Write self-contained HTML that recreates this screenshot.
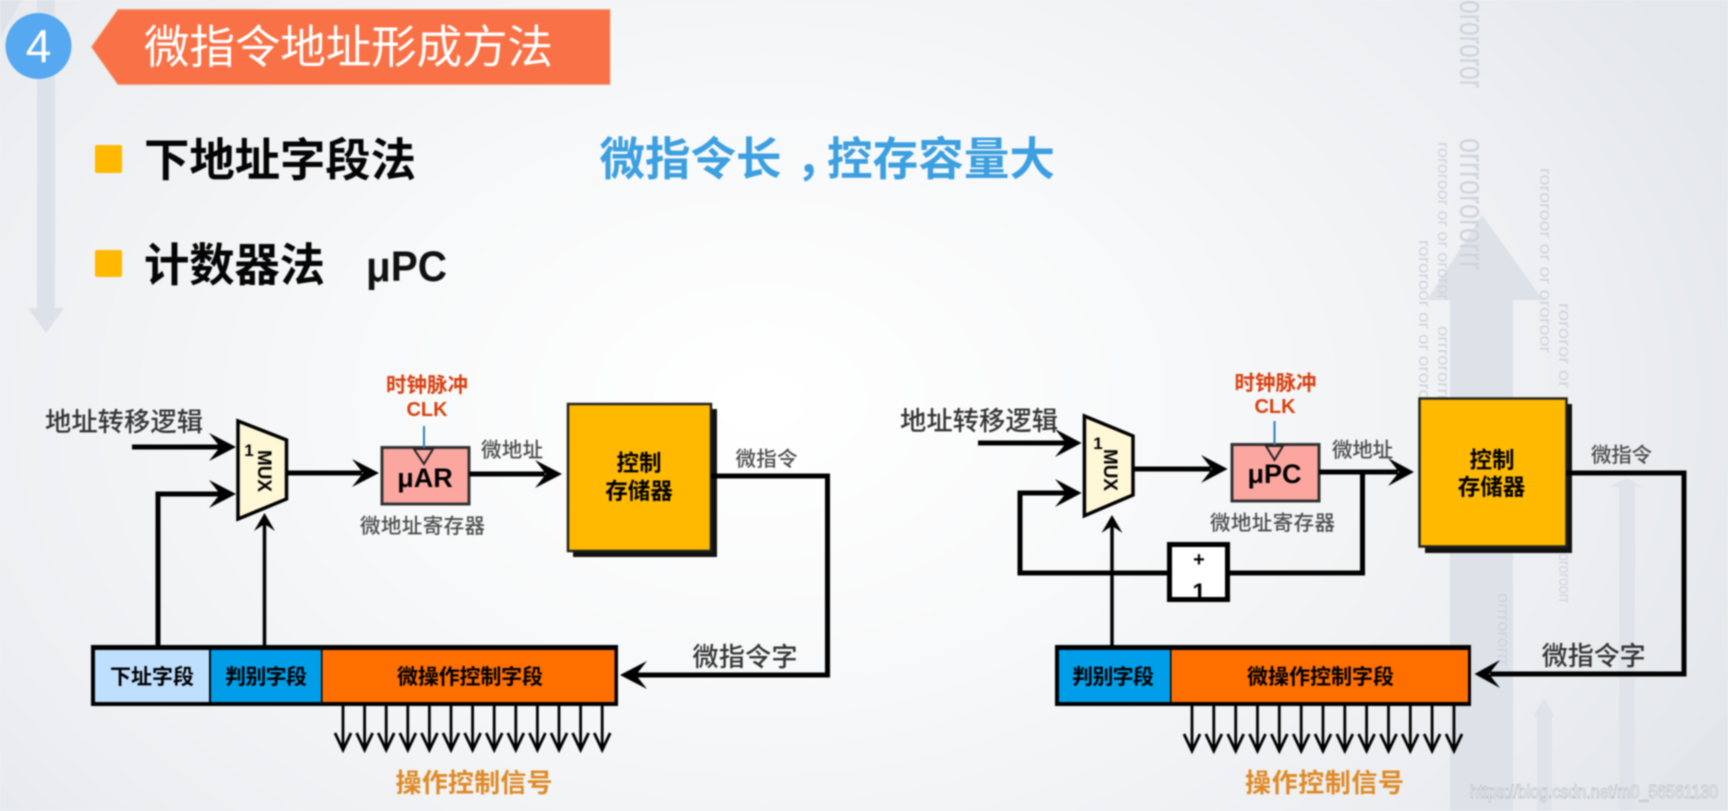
<!DOCTYPE html>
<html lang="zh">
<head>
<meta charset="utf-8">
<title>微指令地址形成方法</title>
<style>
html,body{margin:0;padding:0;width:1728px;height:811px;overflow:hidden;background:#f2f4f6}
svg{display:block;position:absolute;left:0;top:0;filter:blur(.7px)}
text{font-family:"Liberation Sans","Noto Sans CJK SC",sans-serif}
.b{font-weight:700}
.gl{fill:#4c4c4c;font-weight:500}
.gd{fill:#333;font-weight:500}
.k{fill:#000;font-weight:700}
.r{fill:#d8400f;font-weight:700}
.o{fill:#df8a26;font-weight:700}
.bin{fill:#cfd4dc;font-family:"Liberation Sans",sans-serif}
</style>
</head>
<body>
<svg width="1728" height="811" viewBox="0 0 1728 811" xmlns="http://www.w3.org/2000/svg">
<defs>
<radialGradient id="bg" gradientUnits="userSpaceOnUse" cx="760" cy="400" r="1050" gradientTransform="translate(0 120) scale(1 .7)">
<stop offset="0" stop-color="#ffffff"/>
<stop offset=".4" stop-color="#f7f8f9"/>
<stop offset=".8" stop-color="#eceef1"/>
<stop offset="1" stop-color="#e4e7eb"/>
</radialGradient>
</defs>
<rect width="1728" height="811" fill="url(#bg)"/>

<!-- background decoration -->
<polygon points="0,0 22,0 0,38" fill="#dfe3e9"/>
<polygon points="37,0 55,0 55,308 64,308 46,333 28,308 37,308" fill="#dde2ea"/>
<polygon points="1482,215 1543,300 1513,300 1513,811 1450,811 1450,300 1427,300" fill="#dde2e9"/>
<polygon points="1627,478 1644,487 1635,487 1635,811 1619,811 1619,487 1608,487" fill="#e0e4ea"/>
<polygon points="1544,698 1555,717 1552,717 1552,811 1537,811 1537,717 1533,717" fill="#e0e4ea"/>
<polygon points="1728,713 1728,811 1630,811" fill="#e2e6eb"/>

<!-- binary columns -->
<g class="bin">
<text transform="translate(1460 0) rotate(90)" font-size="36" textLength="88" lengthAdjust="spacingAndGlyphs">orororor</text>
<text transform="translate(1460 138) rotate(90)" font-size="36" textLength="132" lengthAdjust="spacingAndGlyphs">orrrorororrr</text>
<text transform="translate(1438 142) rotate(90)" font-size="17" textLength="158" lengthAdjust="spacingAndGlyphs">rororoor or or ororor</text>
<text transform="translate(1540 168) rotate(90)" font-size="17" textLength="185" lengthAdjust="spacingAndGlyphs">rororoor or or ororoor</text>
<text transform="translate(1559 303) rotate(90)" font-size="17" textLength="85" lengthAdjust="spacingAndGlyphs">rororor or</text>
<text transform="translate(1419 240) rotate(90)" font-size="17" textLength="160" lengthAdjust="spacingAndGlyphs">rororoor or or ororo</text>
<text transform="translate(1438 326) rotate(90)" font-size="17" textLength="75" lengthAdjust="spacingAndGlyphs">orrrororrr</text>
<text transform="translate(1498 593) rotate(90)" font-size="17" textLength="73" lengthAdjust="spacingAndGlyphs">orrrororrr</text>
<text transform="translate(1559 553) rotate(90)" font-size="17" textLength="50" lengthAdjust="spacingAndGlyphs">ororoorr</text>
</g>

<!-- header -->
<circle cx="38.5" cy="46" r="33" fill="#56a9f0"/>
<text x="38.5" y="62" font-size="46" fill="#fff" text-anchor="middle">4</text>
<polygon points="91.5,47 118,9.5 610,9.5 610,84.5 118,84.5" fill="#f97247" stroke="#efa27f" stroke-width="1"/>
<text x="144" y="63" font-size="45.6" fill="#fff" textLength="409">微指令地址形成方法</text>

<rect x="95" y="145" width="27" height="28" rx="2" fill="#ffb900"/>
<rect x="95" y="250" width="27" height="27" rx="2" fill="#ffb900"/>
<text x="144" y="176" font-size="45.4" class="b" fill="#050505" textLength="272">下地址字段法</text>
<text x="144" y="281" font-size="45.4" class="b" fill="#050505" textLength="181">计数器法</text>
<text x="366" y="281" font-size="43" class="b" fill="#111" textLength="81" lengthAdjust="spacingAndGlyphs">μPC</text>
<text x="599.5" y="175" font-size="45.5" class="b" fill="#3c9fe0" textLength="182">微指令长</text>
<text x="796" y="175" font-size="45.5" class="b" fill="#3c9fe0">，</text>
<text x="827" y="175" font-size="45.5" class="b" fill="#3c9fe0" textLength="228">控存容量大</text>

<!-- LEFT DIAGRAM -->
<g>
<text x="45" y="431" font-size="26.3" class="gd" textLength="158">地址转移逻辑</text>
<path d="M132 447H222M158 647V494H222" fill="none" stroke="#000" stroke-width="5"/>
<polygon points="236,447 209,433 220,447 209,461" fill="#000"/>
<polygon points="236,494 209,480 220,494 209,508" fill="#000"/>
<polygon points="238,421 286.5,440 286.5,499 238,519" fill="#fff7d6" stroke="#000" stroke-width="3.5"/>
<text x="249" y="456" font-size="17" class="k" text-anchor="middle">1</text>
<text transform="translate(258 471) rotate(90)" font-size="19" class="k" text-anchor="middle" textLength="42" lengthAdjust="spacingAndGlyphs">MUX</text>
<path d="M264.5 647V520" fill="none" stroke="#000" stroke-width="3.5"/>
<polygon points="264.5,513 254,531 264.5,524 275,531" fill="#000"/>
<path d="M288 473H362" stroke="#000" stroke-width="5"/>
<polygon points="379,473 352,459 363,473 352,487" fill="#000"/>
<rect x="382" y="447.5" width="87" height="56.5" fill="#fca6a0" stroke="#333" stroke-width="3"/>
<text x="425" y="487" font-size="27" class="k" fill="#111" text-anchor="middle">μAR</text>
<path d="M424 426V450" stroke="#2d7fb8" stroke-width="2"/>
<polygon points="414,449 433,449 424,464" fill="#fca6a0" stroke="#222" stroke-width="2"/>
<text x="427" y="392" font-size="20.5" class="r" text-anchor="middle">时钟脉冲</text>
<text x="427" y="416" font-size="20" class="r" text-anchor="middle">CLK</text>
<text x="481" y="457" font-size="20.5" class="gl" textLength="62">微地址</text>
<text x="360" y="533" font-size="20.5" class="gl" textLength="125">微地址寄存器</text>
<path d="M469 474H545" stroke="#000" stroke-width="5"/>
<polygon points="562,474 535,460 546,474 535,488" fill="#000"/>
<rect x="573" y="409" width="144" height="148" fill="#111"/>
<rect x="568" y="404" width="143" height="147" fill="#ffb900" stroke="#222" stroke-width="2.5"/>
<text x="639" y="471" font-size="22.5" class="k" text-anchor="middle">控制</text>
<text x="639" y="499" font-size="22.5" class="k" text-anchor="middle">存储器</text>
<text x="735.5" y="466" font-size="20.5" class="gl" textLength="62">微指令</text>
<path d="M711 476H827.5V675H636" fill="none" stroke="#000" stroke-width="5"/>
<polygon points="620,675 647,661 636,675 647,689" fill="#000"/>
<text x="692.5" y="666" font-size="26" class="gd" textLength="105">微指令字</text>
<rect x="91" y="645" width="527" height="61" fill="#000"/>
<rect x="95" y="650" width="114" height="52" fill="#bfdfff"/>
<rect x="211" y="650" width="110" height="52" fill="#009ee8"/>
<rect x="322.5" y="650" width="292" height="52" fill="#ff6f00"/>
<text x="110" y="684" font-size="21" class="k" textLength="84">下址字段</text>
<text x="225" y="684" font-size="21" class="k" textLength="82">判别字段</text>
<text x="397" y="684" font-size="21" class="k" textLength="146">微操作控制字段</text>
<path d="M343 706V750M335 733L343 750L351 733M364.6 706V750M356.6 733L364.6 750L372.6 733M386.2 706V750M378.2 733L386.2 750L394.2 733M407.8 706V750M399.8 733L407.8 750L415.8 733M429.4 706V750M421.4 733L429.4 750L437.4 733M451 706V750M443 733L451 750L459 733M472.6 706V750M464.6 733L472.6 750L480.6 733M494.2 706V750M486.2 733L494.2 750L502.2 733M515.8 706V750M507.8 733L515.8 750L523.8 733M537.4 706V750M529.4 733L537.4 750L545.4 733M559 706V750M551 733L559 750L567 733M580.6 706V750M572.6 733L580.6 750L588.6 733M602.2 706V750M594.2 733L602.2 750L610.2 733" fill="none" stroke="#000" stroke-width="2.8"/>
<text x="395.5" y="792" font-size="26" class="o" textLength="157">操作控制信号</text>
</g>

<!-- RIGHT DIAGRAM -->
<g>
<text x="900" y="430" font-size="26.3" class="gd" textLength="158">地址转移逻辑</text>
<path d="M978 443H1068M1068 493H1020V573H1167M1230 573H1362.5V472" fill="none" stroke="#000" stroke-width="5"/>
<polygon points="1081.6,443 1055,429 1066,443 1055,457" fill="#000"/>
<polygon points="1081.6,493 1055,479 1066,493 1055,507" fill="#000"/>
<polygon points="1084.4,416 1133,436 1133,495 1084.4,515.7" fill="#fff7d6" stroke="#000" stroke-width="3.5"/>
<text x="1098" y="449" font-size="17" class="k" text-anchor="middle">1</text>
<text transform="translate(1104 470) rotate(90)" font-size="19" class="k" text-anchor="middle" textLength="42" lengthAdjust="spacingAndGlyphs">MUX</text>
<path d="M1112 647V522" fill="none" stroke="#000" stroke-width="3.5"/>
<polygon points="1112,515 1101.5,533 1112,526 1122.5,533" fill="#000"/>
<path d="M1134 469H1211" stroke="#000" stroke-width="5"/>
<polygon points="1227.6,469 1201,455 1212,469 1201,483" fill="#000"/>
<rect x="1232" y="444.5" width="87" height="56.5" fill="#fca6a0" stroke="#333" stroke-width="3"/>
<text x="1274.5" y="483" font-size="27" class="k" fill="#111" text-anchor="middle">μPC</text>
<path d="M1274.5 421V447" stroke="#2d7fb8" stroke-width="2"/>
<polygon points="1266,446 1283,446 1274.5,460" fill="#fca6a0" stroke="#222" stroke-width="2"/>
<text x="1275.5" y="390" font-size="20.5" class="r" text-anchor="middle">时钟脉冲</text>
<text x="1275" y="413" font-size="20" class="r" text-anchor="middle">CLK</text>
<text x="1332" y="457" font-size="20.5" class="gl" textLength="61">微地址</text>
<text x="1210" y="530" font-size="20.5" class="gl" textLength="125">微地址寄存器</text>
<path d="M1319 472H1398" stroke="#000" stroke-width="5"/>
<polygon points="1414,472 1388,458 1399,472 1388,486" fill="#000"/>
<rect x="1425" y="404" width="147" height="149" fill="#111"/>
<rect x="1419.5" y="398.5" width="147" height="148" fill="#ffb900" stroke="#222" stroke-width="2.5"/>
<text x="1492" y="468" font-size="22.5" class="k" text-anchor="middle">控制</text>
<text x="1491.5" y="495" font-size="22.5" class="k" text-anchor="middle">存储器</text>
<text x="1591" y="462" font-size="20.5" class="gl" textLength="61">微指令</text>
<path d="M1566 473H1684V674H1490" fill="none" stroke="#000" stroke-width="5"/>
<polygon points="1474.5,674 1500,660 1489,674 1500,688" fill="#000"/>
<text x="1541.7" y="665" font-size="26" class="gd" textLength="104">微指令字</text>
<rect x="1055" y="645" width="416" height="61" fill="#000"/>
<rect x="1059" y="650" width="111" height="52" fill="#009ee8"/>
<rect x="1171.5" y="650" width="296.5" height="52" fill="#ff6f00"/>
<text x="1072" y="684" font-size="21" class="k" textLength="82">判别字段</text>
<text x="1247" y="684" font-size="21" class="k" textLength="147">微操作控制字段</text>
<rect x="1169.5" y="544.5" width="58" height="55" fill="#fff" stroke="#000" stroke-width="5"/>
<text x="1199" y="566" font-size="20" class="k" text-anchor="middle">+</text>
<text x="1199" y="600" font-size="24" class="k" text-anchor="middle">1</text>
<path d="M1192 706V751M1184 734L1192 751L1200 734M1213.8 706V751M1205.8 734L1213.8 751L1221.8 734M1235.7 706V751M1227.7 734L1235.7 751L1243.7 734M1257.5 706V751M1249.5 734L1257.5 751L1265.5 734M1279.3 706V751M1271.3 734L1279.3 751L1287.3 734M1301.2 706V751M1293.2 734L1301.2 751L1309.2 734M1323 706V751M1315 734L1323 751L1331 734M1344.8 706V751M1336.8 734L1344.8 751L1352.8 734M1366.6 706V751M1358.6 734L1366.6 751L1374.6 734M1388.5 706V751M1380.5 734L1388.5 751L1396.5 734M1410.3 706V751M1402.3 734L1410.3 751L1418.3 734M1432.1 706V751M1424.1 734L1432.1 751L1440.1 734M1454 706V751M1446 734L1454 751L1462 734" fill="none" stroke="#000" stroke-width="2.8"/>
<text x="1245" y="792" font-size="26" class="o" textLength="159">操作控制信号</text>
</g>

<!-- watermark -->
<text x="1470" y="798" font-size="18" fill="#fff" stroke="#9aa0a8" stroke-width=".5" textLength="248" lengthAdjust="spacingAndGlyphs">https://blog.csdn.net/m0_56561130</text>
</svg>
</body>
</html>
